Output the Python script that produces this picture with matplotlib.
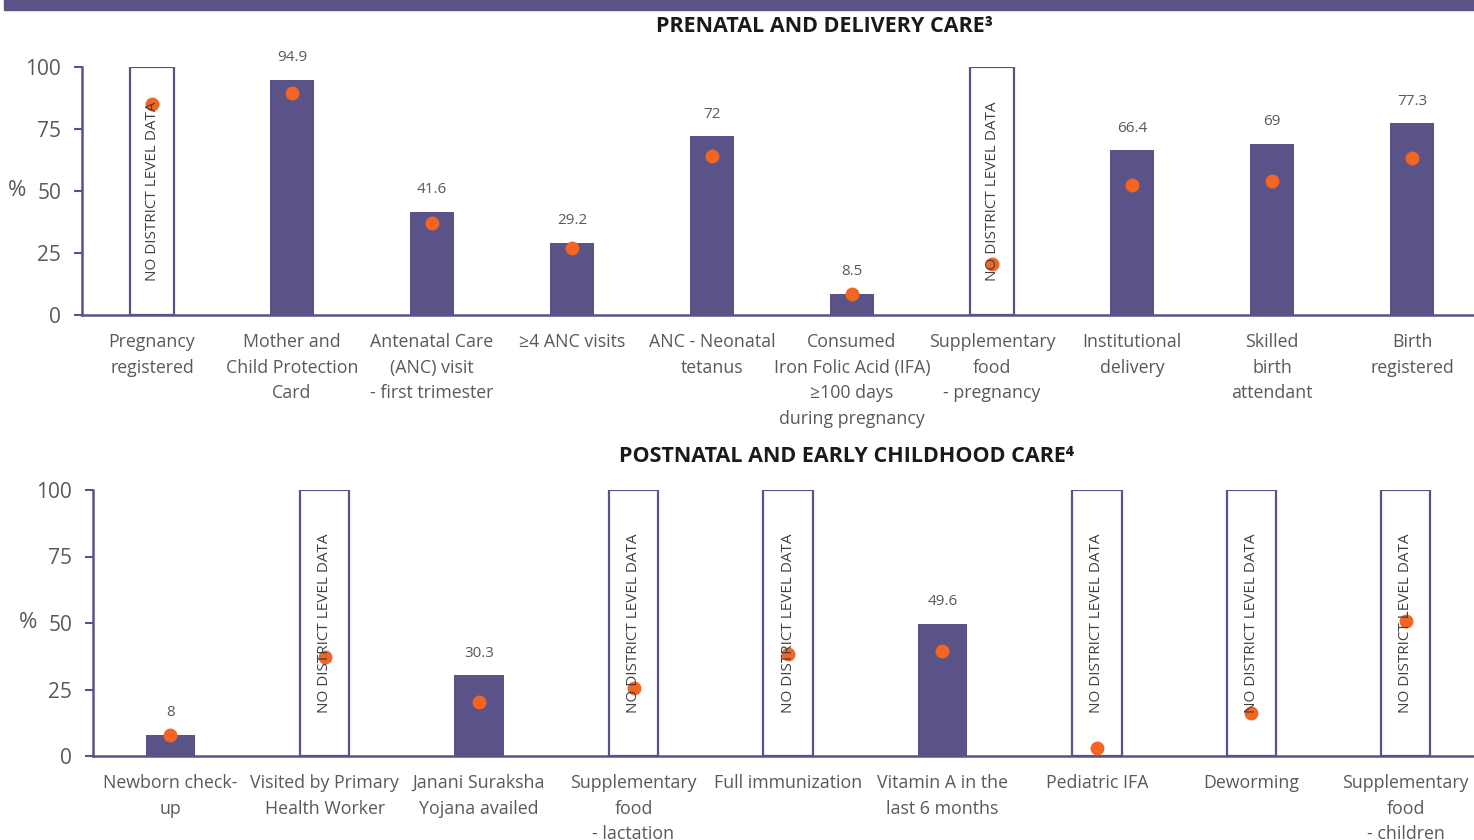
import matplotlib
matplotlib.use("Agg")
import matplotlib.pyplot as plt
from matplotlib.patches import Rectangle

plt.rcParams['font.family'] = ['Open Sans', 'DejaVu Sans']

# ---------------- data ----------------
top_categories = ["Pregnancy\nregistered", "Mother and\nChild Protection\nCard",
                  "Antenatal Care\n(ANC) visit\n- first trimester", "≥4 ANC visits",
                  "ANC - Neonatal\ntetanus",
                  "Consumed\nIron Folic Acid (IFA)\n≥100 days\nduring pregnancy",
                  "Supplementary\nfood\n- pregnancy", "Institutional\ndelivery",
                  "Skilled\nbirth\nattendant", "Birth\nregistered"]
top_district = [None, 94.9, 41.6, 29.2, 72, 8.5, None, 66.4, 69, 77.3]
top_state = [85.1, 89.5, 37.1, 27.0, 64.1, 8.5, 20.6, 52.4, 54.0, 63.3]

bot_categories = ["Newborn check-\nup", "Visited by Primary\nHealth Worker",
                  "Janani Suraksha\nYojana availed", "Supplementary\nfood\n- lactation",
                  "Full immunization", "Vitamin A in the\nlast 6 months",
                  "Pediatric IFA", "Deworming", "Supplementary\nfood\n- children"]
bot_district = [8, None, 30.3, None, None, 49.6, None, None, None]
bot_state = [7.9, 37.2, 20.3, 25.6, 38.3, 39.5, 3.0, 16.2, 50.8]

yticks = [0, 25, 50, 75, 100]
top_title = "PRENATAL AND DELIVERY CARE³"
bot_title = "POSTNATAL AND EARLY CHILDHOOD CARE⁴"
no_data_text = "NO DISTRICT LEVEL DATA"

# ---------------- style ----------------
PURPLE = "#5a5387"
ORANGE = "#f26522"
GRAY = "#595959"
W, H = 1474, 840

fig = plt.figure(figsize=(W / 100, H / 100), dpi=100)

# top banner
fig.patches.append(Rectangle((4 / W, 1 - 10 / H), 1 - 4 / W, 10 / H,
                             transform=fig.transFigure, color=PURPLE, zorder=0))


def make_panel(rect, cats, district, state, title, title_xy):
    ax = fig.add_axes(rect)
    n = len(cats)
    x = list(range(n))
    bw = 0.32
    for i in x:
        v = district[i]
        if v is None:
            ax.bar(i, 100, width=bw, facecolor="white", edgecolor=PURPLE,
                   linewidth=1.6, zorder=2)
            ax.text(i, 50, no_data_text, rotation=90, ha="center", va="center",
                    fontsize=11, color="#404040", zorder=5)
        else:
            ax.bar(i, v, width=bw, color=PURPLE, zorder=2)
            ax.annotate(f"{v:g}", (i, v), xytext=(0, 16), textcoords="offset points",
                        ha="center", va="center", fontsize=11, color=GRAY)
    ax.plot(x, state, linestyle="none", marker="o", markersize=9,
            color=ORANGE, zorder=4)
    ax.set_xlim(-0.5, n - 0.5)
    ax.set_ylim(0, 100)
    ax.set_yticks(yticks)
    ax.set_xticks(x)
    ax.set_xticklabels(cats, fontsize=12.8, color=GRAY, linespacing=1.55)
    ax.tick_params(axis="x", length=0, pad=13)
    ax.tick_params(axis="y", length=6, width=1.5, color=PURPLE, labelsize=15,
                   labelcolor=GRAY, pad=9)
    for s in ["top", "right"]:
        ax.spines[s].set_visible(False)
    for s in ["left", "bottom"]:
        ax.spines[s].set_color(PURPLE)
        ax.spines[s].set_linewidth(1.8)
    ax.set_ylabel("%", rotation=0, fontsize=16, color=GRAY, labelpad=6, va="center")
    fig.text(title_xy[0] / W, 1 - title_xy[1] / H, title, ha="center", va="center",
             fontsize=15.5, fontweight="bold", color="#1a1a1a")
    return ax


make_panel([82 / W, 1 - 315 / H, 1400 / W, 248 / H], top_categories, top_district,
           top_state, top_title, (825, 27))
make_panel([93 / W, 1 - 756 / H, 1390 / W, 266 / H], bot_categories, bot_district,
           bot_state, bot_title, (847, 457))

fig.savefig("out.png", dpi=100)
